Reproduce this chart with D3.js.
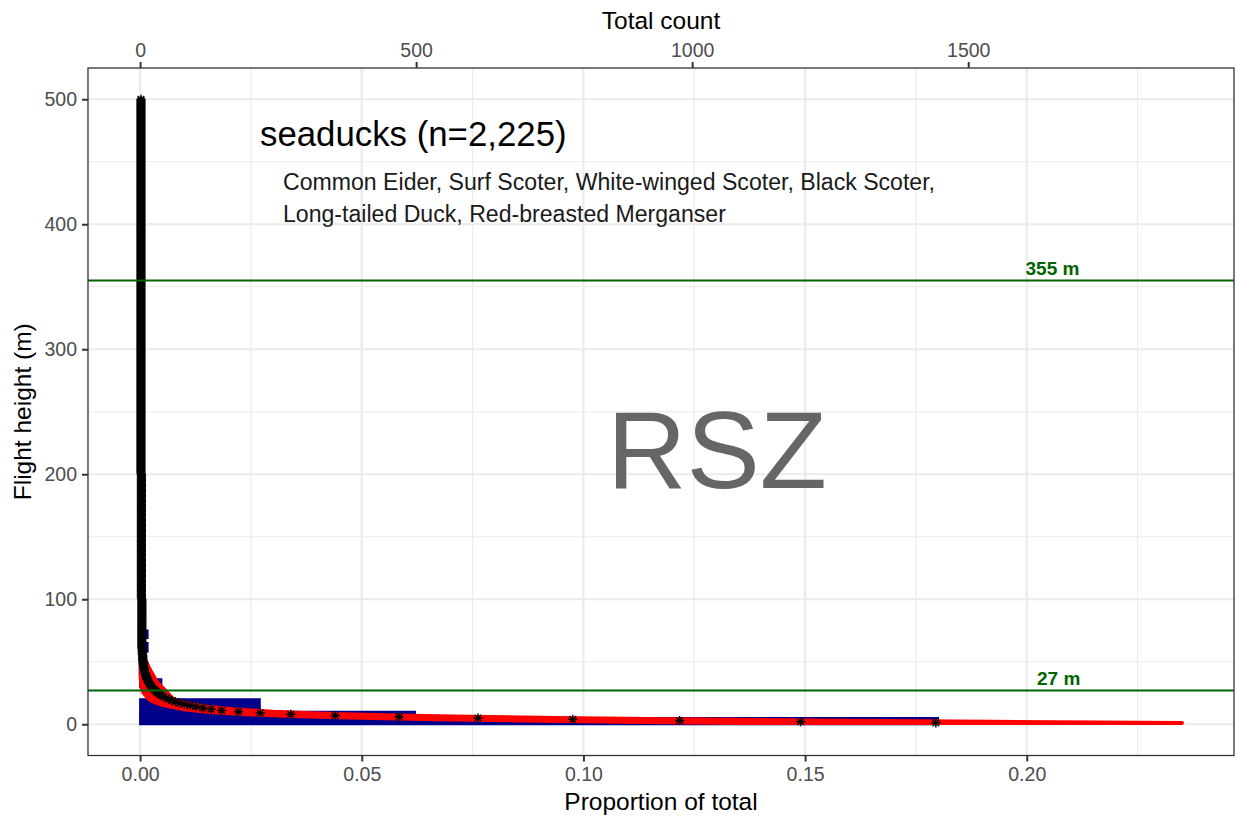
<!DOCTYPE html>
<html>
<head>
<meta charset="utf-8">
<script src="https://cdn.jsdelivr.net/npm/d3@7"></script>
<style>
  body { margin: 0; background: #fff; }
  svg { display: block; }
  text { font-family: "Liberation Sans", Arial, sans-serif; }
</style>
</head>
<body>
<svg id="chart" width="1238" height="817"></svg>
<script>
// ---- Modelled proportion per metre of flight height (asterisks) ----
const starHeights = [
  1, 2, 3, 4, 5, 6, 7, 8, 9, 10, 11, 12, 13, 14, 15, 16, 17, 18, 19, 20,
  21, 22, 23, 24, 25, 26, 27, 28, 29, 30, 31, 32, 33, 34, 35, 36, 37, 38, 39, 40,
  41, 42, 43, 44, 45, 46, 47, 48, 49, 50, 51, 52, 53, 54, 55, 56, 57, 58, 59, 60
];
const starProps = [
  0.1795, 0.149, 0.1217, 0.0976, 0.0762, 0.0584, 0.044, 0.034, 0.0271, 0.0222,
  0.0184, 0.016, 0.0142, 0.0126, 0.0112, 0.0100, 0.0089, 0.0080, 0.0072, 0.0065,
  0.0059, 0.0053, 0.0048, 0.0044, 0.0040, 0.0037, 0.0034, 0.0031, 0.0028, 0.0026,
  0.0024, 0.0022, 0.0020, 0.0019, 0.0018, 0.0016, 0.0015, 0.0014, 0.0013, 0.0012,
  0.0011, 0.0010, 0.0010, 0.0009, 0.0009, 0.0008, 0.0008, 0.0007, 0.0007, 0.0007,
  0.0006, 0.0006, 0.0006, 0.0006, 0.0006, 0.0005, 0.0005, 0.0005, 0.0005, 0.0005
];
// upper heights: runs of metres sharing the same (tiny) proportion [from, to, proportion]
const starTailRuns = [
  [61, 100, 0.0004],
  [101, 200, 0.0003],
  [201, 500, 0.0002]
];

// ---- Bootstrap spread of the fitted curve (red band) ----
const bandHeights = [1, 2, 3, 4, 5, 6, 7, 8, 9, 10, 12, 14, 16, 18, 20, 25, 30, 35, 40, 45, 50, 55];
const bandLow  = [0.135, 0.108, 0.086, 0.067, 0.052, 0.040, 0.031, 0.024, 0.019, 0.015, 0.010, 0.007,
                  0.0045, 0.003, 0.002, 0.0008, 0.0003, 0.0002, 0.0001, 0.0001, 0.0001, 0.0001];
const bandHigh = [0.235, 0.192, 0.152, 0.120, 0.094, 0.074, 0.058, 0.046, 0.037, 0.030, 0.021, 0.015,
                  0.0115, 0.009, 0.0075, 0.0062, 0.0048, 0.0036, 0.0028, 0.0020, 0.0014, 0.0008];

// ---- Observed flight heights, proportion per height bin (blue bars) ----
const barLow  = [0, 5, 10, 30, 58, 69, 89];
const barHigh = [5, 10, 20, 36, 65, 75, 94];
const barProp = [0.180, 0.062, 0.027, 0.0048, 0.0017, 0.0017, 0.0011];

// ---- Rotor swept zone limits ----
const rszHeights = [27, 355];
const rszLabels = ["27 m", "355 m"];
const rszLabelX = [0.2072, 0.2058];

// ---- Axis ticks ----
const propTicks = [0, 0.05, 0.10, 0.15, 0.20];
const propMinor = [0.025, 0.075, 0.125, 0.175, 0.225];
const countTicks = [0, 500, 1000, 1500];
const heightTicks = [0, 100, 200, 300, 400, 500];
const heightMinor = [50, 150, 250, 350, 450];
const countsPerProportion = 8030;   // secondary (top) axis transform

const titleText = "seaducks (n=2,225)";
const speciesLines = [
  "Common Eider, Surf Scoter, White-winged Scoter, Black Scoter,",
  "Long-tailed Duck, Red-breasted Merganser"
];

// ---- Layout ----
const panel = { left: 88, right: 1234, top: 68, bottom: 755.5 };

const svg = d3.select("#chart");

// expanded scales (5% each side)
const xMax = d3.max(bandHigh.concat(starProps, barProp));
const xPad = xMax * 0.05;
const x = d3.scaleLinear().domain([-xPad, xMax + xPad]).range([panel.left, panel.right]);
const yPad = 500 * 0.05;
const y = d3.scaleLinear().domain([-yPad, 500 + yPad]).range([panel.bottom, panel.top]);
const xTop = d3.scaleLinear()
  .domain(x.domain().map(d => d * countsPerProportion))
  .range(x.range());

// clip
svg.append("defs").append("clipPath").attr("id", "clip")
  .append("rect")
  .attr("x", panel.left).attr("y", panel.top)
  .attr("width", panel.right - panel.left).attr("height", panel.bottom - panel.top);

// background grid
const grid = svg.append("g");
grid.selectAll(".vminor").data(propMinor).join("line")
  .attr("x1", d => x(d)).attr("x2", d => x(d))
  .attr("y1", panel.top).attr("y2", panel.bottom)
  .attr("stroke", "#EBEBEB").attr("stroke-width", 1.2);
grid.selectAll(".hminor").data(heightMinor).join("line")
  .attr("y1", d => y(d)).attr("y2", d => y(d))
  .attr("x1", panel.left).attr("x2", panel.right)
  .attr("stroke", "#EBEBEB").attr("stroke-width", 1.2);
grid.selectAll(".vmajor").data(propTicks).join("line")
  .attr("x1", d => x(d)).attr("x2", d => x(d))
  .attr("y1", panel.top).attr("y2", panel.bottom)
  .attr("stroke", "#EBEBEB").attr("stroke-width", 2.2);
grid.selectAll(".hmajor").data(heightTicks).join("line")
  .attr("y1", d => y(d)).attr("y2", d => y(d))
  .attr("x1", panel.left).attr("x2", panel.right)
  .attr("stroke", "#EBEBEB").attr("stroke-width", 2.2);

const plot = svg.append("g").attr("clip-path", "url(#clip)");

// observed bars
const bars = barProp.map((p, i) => ({ lo: barLow[i], hi: barHigh[i], p }));
plot.selectAll(".bar").data(bars).join("rect")
  .attr("x", x(0))
  .attr("y", d => y(d.hi))
  .attr("width", d => x(d.p) - x(0))
  .attr("height", d => y(d.lo) - y(d.hi))
  .attr("fill", "#00008B")
  .attr("stroke", "#00008B")
  .attr("stroke-width", 2);

// bootstrap band
const band = bandHeights.map((h, i) => ({ h, lo: bandLow[i], hi: bandHigh[i] }));
const bandArea = d3.area()
  .y(d => y(d.h))
  .x0(d => x(d.lo))
  .x1(d => x(d.hi));
plot.append("path").datum(band)
  .attr("d", bandArea)
  .attr("fill", "#FF0000")
  .attr("stroke", "#FF0000")
  .attr("stroke-width", 4)
  .attr("stroke-linejoin", "round");

// modelled proportions as asterisks
const stars = starHeights.map((h, i) => ({ h, p: starProps[i] }));
starTailRuns.forEach(([from, to, p]) => {
  for (let h = from; h <= to; h++) stars.push({ h, p });
});
const r = 4.6, rd = r * 0.72;
const asterisk = `M${-r},0H${r}M0,${-r}V${r}M${-rd},${-rd}L${rd},${rd}M${-rd},${rd}L${rd},${-rd}`;
plot.selectAll(".star").data(stars).join("path")
  .attr("transform", d => `translate(${x(d.p)},${y(d.h)})`)
  .attr("d", asterisk)
  .attr("fill", "none")
  .attr("stroke", "#000")
  .attr("stroke-width", 1.4);

// rotor swept zone lines
plot.selectAll(".rsz").data(rszHeights).join("line")
  .attr("x1", panel.left).attr("x2", panel.right)
  .attr("y1", d => y(d)).attr("y2", d => y(d))
  .attr("stroke", "#006400").attr("stroke-width", 2);
svg.selectAll(".rszlab").data(rszHeights).join("text")
  .attr("x", (d, i) => x(rszLabelX[i]))
  .attr("y", d => y(d) - 6)
  .attr("text-anchor", "middle")
  .attr("font-size", 19)
  .attr("font-weight", "bold")
  .attr("fill", "#006400")
  .text((d, i) => rszLabels[i]);

// annotations
svg.append("text")
  .attr("x", 717).attr("y", 488)
  .attr("text-anchor", "middle")
  .attr("font-size", 110)
  .attr("fill", "#666666")
  .text("RSZ");
svg.append("text")
  .attr("x", 260).attr("y", 146)
  .attr("font-size", 34.8)
  .attr("fill", "#000")
  .text(titleText);
svg.selectAll(".species").data(speciesLines).join("text")
  .attr("x", 283)
  .attr("y", (d, i) => 190 + i * 32)
  .attr("font-size", 23.1)
  .attr("fill", "#1a1a1a")
  .text(d => d);

// panel border
svg.append("rect")
  .attr("x", panel.left).attr("y", panel.top)
  .attr("width", panel.right - panel.left).attr("height", panel.bottom - panel.top)
  .attr("fill", "none").attr("stroke", "#333333").attr("stroke-width", 1.3);

// axes
const styleAxis = g => {
  g.select(".domain").remove();
  g.selectAll(".tick line").attr("stroke", "#333333").attr("stroke-width", 2);
  g.selectAll(".tick text").attr("fill", "#4D4D4D").attr("font-size", 19.5)
    .attr("font-family", "'Liberation Sans', Arial, sans-serif");
};
svg.append("g")
  .attr("transform", `translate(0,${panel.bottom})`)
  .call(d3.axisBottom(x).tickValues(propTicks).tickFormat(d3.format(".2f")).tickSize(6).tickPadding(6))
  .call(styleAxis);
svg.append("g")
  .attr("transform", `translate(0,${panel.top})`)
  .call(d3.axisTop(xTop).tickValues(countTicks).tickFormat(d3.format("d")).tickSize(6).tickPadding(5))
  .call(styleAxis);
svg.append("g")
  .attr("transform", `translate(${panel.left},0)`)
  .call(d3.axisLeft(y).tickValues(heightTicks).tickFormat(d3.format("d")).tickSize(6).tickPadding(5))
  .call(styleAxis);

// axis titles
const midX = (panel.left + panel.right) / 2;
svg.append("text").attr("x", midX).attr("y", 29).attr("text-anchor", "middle")
  .attr("font-size", 24.5).attr("fill", "#000").text("Total count");
svg.append("text").attr("x", midX).attr("y", 810).attr("text-anchor", "middle")
  .attr("font-size", 24.5).attr("fill", "#000").text("Proportion of total");
svg.append("text")
  .attr("transform", `translate(31,${(panel.top + panel.bottom) / 2}) rotate(-90)`)
  .attr("text-anchor", "middle")
  .attr("font-size", 24.5).attr("fill", "#000").text("Flight height (m)");
</script>
</body>
</html>
